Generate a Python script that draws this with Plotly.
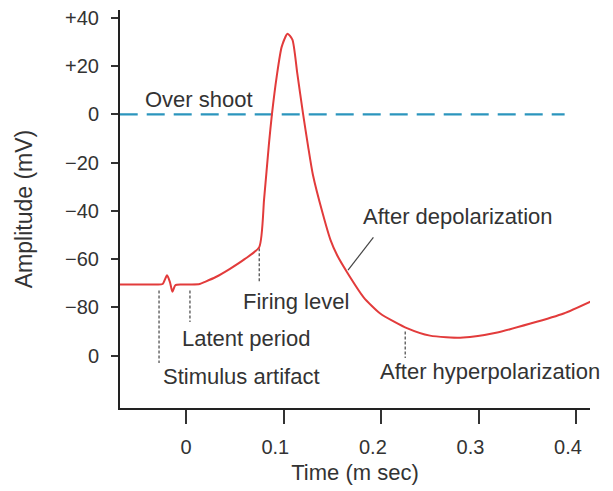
import plotly.graph_objects as go

# Membrane potential trace (time in ms, amplitude in mV)
time_ms = [-0.068, -0.05, -0.03, -0.024, -0.0195, -0.0165, -0.014, -0.011, -0.005, 0.005, 0.014,
           0.02, 0.03, 0.045, 0.06, 0.075, 0.08, 0.085, 0.088, 0.093, 0.098, 0.104,
           0.109, 0.114, 0.12, 0.125, 0.13, 0.14, 0.148, 0.155, 0.165, 0.182, 0.199,
           0.227, 0.25, 0.284, 0.319, 0.353, 0.387, 0.417]
amplitude_mv = [-70.5, -70.5, -70.5, -70.3, -66.7, -69.5, -73.5, -70.8, -70.5, -70.5, -70.3,
                -69.3, -67.5, -64, -60, -55, -35, -12, 0, 16, 28, 33.5,
                31, 17, 0, -13, -25, -41, -52, -58.5, -65.4, -75.8, -82.5,
                -88.7, -91.7, -92.5, -90.4, -86.7, -82.5, -77.1]

overshoot_level = [0]
overshoot_x = [-0.068, 0.388]

y_tick_vals = [40, 20, 0, -20, -40, -60, -80, -100]
y_tick_text = ["+40", "+20", "0", "\u221220", "\u221240", "\u221260", "\u221280", "0"]
x_tick_vals = [0, 0.1, 0.2, 0.3, 0.4]
NB = "\u00a0\u00a0\u00a0"
x_tick_text = ["0", "0.1" + NB, "0.2" + NB, "0.3" + NB, "0.4" + NB]

# Annotation leader lines (data coordinates)
leader_lines = {
    "Stimulus artifact": ([-0.0277, -0.0277], [-73, -103]),
    "Latent period": ([0.004, 0.004], [-73, -86]),
    "Firing level": ([0.075, 0.075], [-55.5, -70]),
    "After depolarization": ([0.166, 0.192], [-64.5, -51]),
    "After hyperpolarization": ([0.2246, 0.2246], [-90, -101]),
}
label_pos = {
    "Over shoot": (0.0133, 6.3),
    "Stimulus artifact": (0.0564, -108.8),
    "Latent period": (0.0615, -92.9),
    "Firing level": (0.113, -77.5),
    "After depolarization": (0.279, -42.1),
    "After hyperpolarization": (0.311, -106.7),
}

TEXT = "#333333"
FONT = "Liberation Sans, Arial, sans-serif"

fig = go.Figure()

fig.add_trace(go.Scatter(x=overshoot_x, y=overshoot_level * 2, mode="lines",
                         line=dict(color="#2b95bd", width=2.2, dash="18px,9px"),
                         hoverinfo="skip", showlegend=False))

for name, (xs, ys) in leader_lines.items():
    fig.add_trace(go.Scatter(x=xs, y=ys, mode="lines",
                             line=dict(color="#444444", width=1.2,
                                       dash="solid" if name == "After depolarization" else "3px,2px"),
                             hoverinfo="skip", showlegend=False))

fig.add_trace(go.Scatter(x=time_ms, y=amplitude_mv, mode="lines",
                         line=dict(color="#e23b3b", width=2, shape="spline", smoothing=0.6),
                         showlegend=False))

for text, (x, y) in label_pos.items():
    fig.add_annotation(x=x, y=y, text=text, showarrow=False,
                       font=dict(size=22, color=TEXT, family=FONT))

fig.update_layout(
    width=613, height=491,
    margin=dict(l=112, r=31, t=2, b=91),
    paper_bgcolor="white", plot_bgcolor="white",
    font=dict(family=FONT, color=TEXT, size=20),
)
fig.update_xaxes(range=[-0.0677, 0.414], tickvals=x_tick_vals, ticktext=x_tick_text,
                 showgrid=False, zeroline=False, showline=True, linecolor="#222222", linewidth=2,
                 ticks="outside", ticklen=14, tickcolor="#333333", tickwidth=1.5,
                 tickfont=dict(size=20, color=TEXT), automargin=False, ticklabelstandoff=6,
                 ticklabeloverflow="allow",
                 title=dict(text="Time (m sec)", font=dict(size=22, color=TEXT), standoff=8))
fig.update_yaxes(range=[-121.7, 43.3], tickvals=y_tick_vals, ticktext=y_tick_text,
                 showgrid=False, zeroline=False, showline=True, linecolor="#222222", linewidth=2,
                 ticks="outside", ticklen=7, tickcolor="#333333", tickwidth=1.5,
                 tickfont=dict(size=20, color=TEXT), automargin=False, ticklabelstandoff=8,
                 ticklabeloverflow="allow",
                 title=dict(text="Amplitude (mV)", font=dict(size=23, color=TEXT), standoff=26))

fig.write_html("out.html")
